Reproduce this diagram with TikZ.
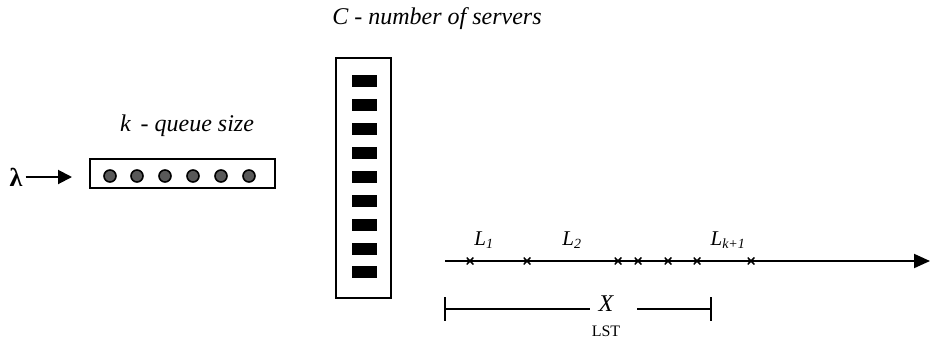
\documentclass[tikz,border=0pt]{standalone}
\usepackage{fontspec}
\setmainfont{Liberation Serif}
\usetikzlibrary{arrows.meta}
\tikzset{
  lbl/.style={font=\fontsize{24}{26}\selectfont\itshape, inner sep=0pt},
  llbl/.style={font=\fontsize{21}{23}\selectfont\itshape, inner sep=0pt},
  boxline/.style={line width=2.4pt},
  job/.style={circle, draw=black, fill=black!65, line width=1.6pt, minimum size=12pt, inner sep=0pt},
  srv/.style={fill=black, draw=none, minimum width=25pt, minimum height=12pt, inner sep=0pt},
  xmark/.style={inner sep=0pt, minimum size=7pt, path picture={
      \draw[line width=1.6pt] (path picture bounding box.south west) -- (path picture bounding box.north east)
                              (path picture bounding box.north west) -- (path picture bounding box.south east);}},
  axis/.style={line width=2pt},
}
\begin{document}
\begin{tikzpicture}[x=1pt,y=-1pt]
\useasboundingbox (0,0) rectangle (947,341);
% arrival
\node[font=\fontsize{26}{28}\selectfont\bfseries, inner sep=0pt] (lam) at (16,177) {λ};
\coordinate (qin) at (72,177);
\draw[line width=2pt, -{Triangle[length=14pt,width=14pt]}] (lam.east)++(3,0) -- (qin);
% queue
\node[boxline, draw, minimum width=185pt, minimum height=29pt, inner sep=0pt] (queue) at (182.5,173.5) {};
\foreach \i/\x in {1/110,2/137,3/165,4/193,5/221,6/249}
  \node[job] (j\i) at (\x,176) {};
\node[lbl] (klbl) at (187,126) {k\hspace{10pt}- queue size};
% servers
\node[lbl] (clbl) at (437,19) {C - number of servers};
\node[boxline, draw, minimum width=55pt, minimum height=240pt, inner sep=0pt] (servers) at (363.5,178) {};
\foreach \i/\y in {1/81,2/105,3/129,4/153,5/177,6/201,7/225,8/249,9/272}
  \node[srv] (s\i) at (364.5,\y) {};
% time axis
\coordinate (t0) at (445,261);
\coordinate (t1) at (930,261);
\draw[axis, -{Triangle[length=16pt,width=14pt]}] (t0) -- (t1);
\foreach \i/\x in {1/470,2/527,3/618,4/638,5/668,6/697,7/751}
  \node[xmark] (x\i) at (\x,261) {};
\node[llbl] (L1) at (484,240) {L\textsubscript{\fontsize{14}{14}\selectfont 1}};
\node[llbl] (L2) at (572,240) {L\textsubscript{\fontsize{14}{14}\selectfont 2}};
\node[llbl] (Lk) at (728,240) {L\textsubscript{\fontsize{14}{14}\selectfont k+1}};
% X interval
\coordinate (a0) at (445,309);
\coordinate (a1) at (711,309);
\node[lbl] (X) at (606,304) {X};
\node[font=\fontsize{16}{17}\selectfont, inner sep=0pt] (lst) at (606,331) {LST};
\draw[line width=1.8pt] (a0) -- (590,309);
\draw[line width=1.8pt] (637,309) -- (a1);
\draw[line width=1.8pt] (445,297) -- (445,321);
\draw[line width=1.8pt] (711,297) -- (711,321);
\end{tikzpicture}
\end{document}
